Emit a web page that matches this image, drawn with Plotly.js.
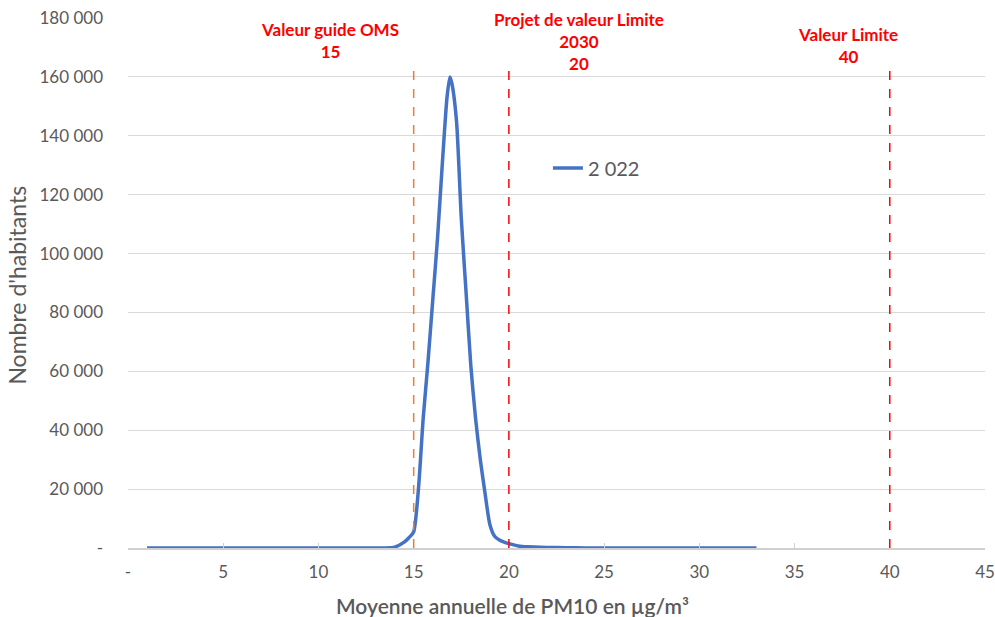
<!DOCTYPE html>
<html>
<head>
<meta charset="utf-8">
<script src="https://cdn.plot.ly/plotly-3.0.1.min.js"></script>
<style>html,body{margin:0;padding:0;background:#fff;}#chart{width:995px;height:617px;}</style>
</head>
<body>
<div id="chart"></div>
<script>
// PM10 annual mean (µg/m3)
const pm10 = [1,2,3,4,5,6,7,8,9,10,11,12,13,13.5,14,14.5,14.75,15,15.25,15.5,15.75,16,16.25,16.5,16.75,16.9,17,17.25,17.5,17.75,18,18.25,18.5,18.75,19,19.25,19.5,19.75,20,20.5,21,22,23,24,25,26,27,28,29,30,31,32,33];
// Number of inhabitants (2022)
const habitants = [0,0,0,0,0,0,0,0,0,0,0,0,0,0,300,2000,3500,5500,20000,44000,63000,84000,105000,130000,153000,160000,158000,145000,112000,87000,62000,44000,30000,18500,8000,4000,2700,2000,1500,700,400,200,80,40,30,30,30,30,30,30,30,30,30];
const seriesName = "2 022";

const yTickVals = [0,20000,40000,60000,80000,100000,120000,140000,160000,180000];
const yTickText = ["-","20 000","40 000","60 000","80 000","100 000","120 000","140 000","160 000","180 000"];
const xTickVals = [0,5,10,15,20,25,30,35,40,45];
const xTickText = ["-","5","10","15","20","25","30","35","40","45"];

const refValues = [15,20,40];
const refColors = ["#ED7D31","#FF0000","#FF0000"];
const refLabels = ["Valeur guide OMS<br>15","Projet de valeur Limite<br>2030<br>20","Valeur Limite<br>40"];
const refLabelX = [10.61,23.69,37.82];
const refLabelCenterRow = [40,42,46]; // vertical pixel centre of each label block

const FONT = "Lato, 'Open Sans', sans-serif";
const GRAY = "#595959";
const PLOT_TOP = 18, PLOT_BOTTOM = 548;
const toPaper = py => (PLOT_BOTTOM - py) / (PLOT_BOTTOM - PLOT_TOP);

const shapes = refValues.map((v,i)=>({
  type:"line", xref:"x", yref:"y", x0:v, x1:v, y0:0, y1:164000,
  line:{color:refColors[i], width:1.5, dash:"dash"}
}));

const annotations = refLabels.map((t,i)=>({
  text:t, xref:"x", yref:"paper", x:refLabelX[i], y:toPaper(refLabelCenterRow[i]),
  xanchor:"center", yanchor:"middle", showarrow:false,
  font:{family:FONT, size:17, color:"#FF0000", weight:"bold"}
}));
annotations.push({
  text:"Moyenne annuelle de PM10 en µg/m³", xref:"x", yref:"paper", x:20.2, y:toPaper(605),
  xanchor:"center", yanchor:"middle", showarrow:false,
  font:{family:FONT, size:21, color:GRAY, weight:600}
});
annotations.push({
  text:"Nombre d'habitants", xref:"paper", yref:"paper", x:-0.130, y:toPaper(285), textangle:-90,
  xanchor:"center", yanchor:"middle", showarrow:false,
  font:{family:FONT, size:23, color:GRAY}
});

const trace = {
  x: pm10, y: habitants, name: seriesName, type:"scatter", mode:"lines",
  line:{color:"#4472C4", width:3.5, shape:"spline", smoothing:0.6},
  showlegend:true
};

const layout = {
  width:995, height:617,
  margin:{l:128, r:10, t:18, b:69},
  paper_bgcolor:"#fff", plot_bgcolor:"#fff",
  font:{family:FONT, color:GRAY},
  showlegend:true,
  legend:{x:0.49, y:toPaper(168), xanchor:"left", yanchor:"middle", bgcolor:"rgba(0,0,0,0)", font:{size:20, color:GRAY, family:FONT}},
  xaxis:{range:[0,45], tickvals:xTickVals, ticktext:xTickText, showgrid:false, zeroline:false,
    showline:true, linecolor:"#D0D0D0", linewidth:1.5, ticks:"inside", ticklen:5, tickcolor:"#D0D0D0",
    ticklabelstandoff:8,
    tickfont:{size:17, color:GRAY, family:FONT}, fixedrange:true},
  yaxis:{range:[0,180000], tickvals:yTickVals, ticktext:yTickText, showgrid:true, gridcolor:"#D9D9D9",
    zeroline:false, showline:false, ticks:"", tickfont:{size:17, color:GRAY, family:FONT}, ticklabelstandoff:24,
    fixedrange:true},
  shapes:shapes, annotations:annotations, hovermode:false
};

Plotly.newPlot("chart",[trace],layout,{displayModeBar:false, staticPlot:true});
</script>
</body>
</html>
